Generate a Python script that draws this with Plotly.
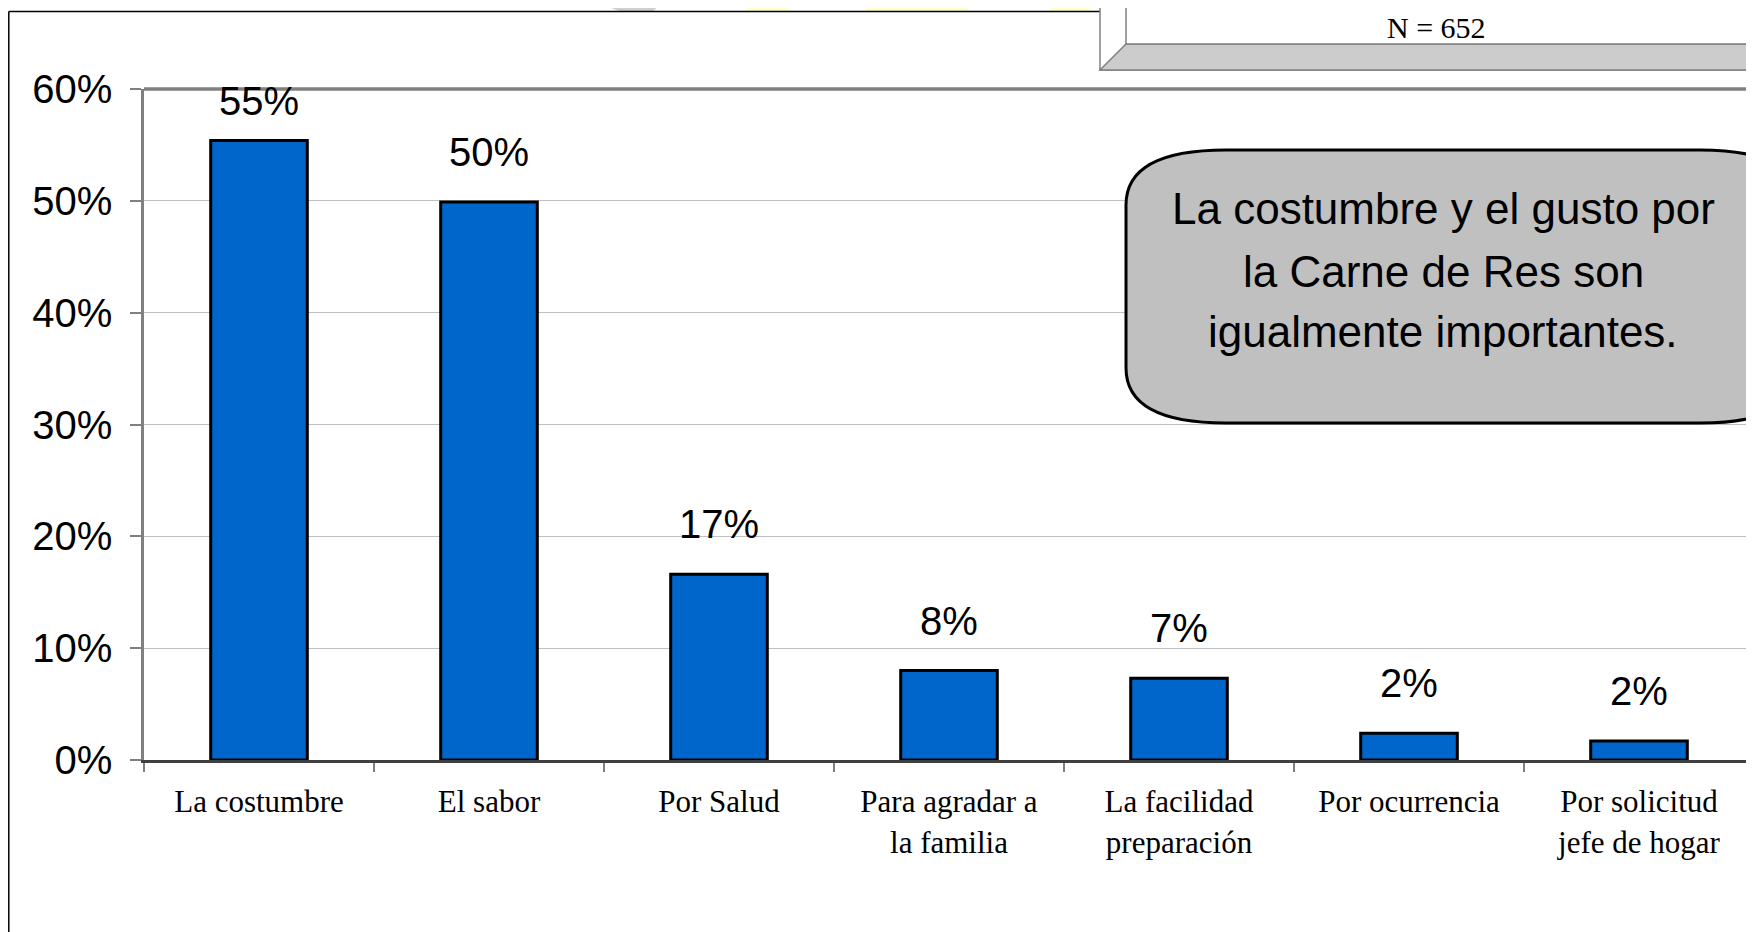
import plotly.graph_objects as go

# ---------------- data ----------------
categories = [
    "La costumbre",
    "El sabor",
    "Por Salud",
    "Para agradar a<br>la familia",
    "La facilidad<br>preparación",
    "Por ocurrencia",
    "Por solicitud<br>jefe de hogar",
]
values = [55.4, 49.9, 16.6, 8.0, 7.3, 2.4, 1.7]
y_ticks = [0, 10, 20, 30, 40, 50, 60]
callout_lines = [
    "La costumbre y el gusto por",
    "la Carne de Res son",
    "igualmente importantes.",
]
sample_text = "N = 652"

# ---------------- geometry helpers (page pixel coords) ----------------
OFF = 8  # default body margin of the html page
W, H = 1754 - OFF, 932 - OFF
PL, PR, PT, PB = 144, 1754, 89, 760  # plot area in page pixels


def px(x):
    return (x - PL) / (PR - PL)


def py(y):
    return (PB - y) / (PB - PT)


SANS = "Liberation Sans, Arial, sans-serif"
SERIF = "Liberation Serif, Times New Roman, serif"

fig = go.Figure()
fig.add_trace(
    go.Bar(
        x=categories,
        y=values,
        width=0.42,
        marker=dict(color="#0066CC", line=dict(color="#000000", width=3)),
        hoverinfo="skip",
    )
)

# data labels above bars
for i, (c, v) in enumerate(zip(categories, values)):
    fig.add_annotation(
        x=c, y=v, xref="x", yref="y",
        text=f"{round(v):d}%",
        showarrow=False,
        yanchor="middle",
        yshift=39 if i == 0 else 50,
        font=dict(family=SANS, size=40, color="#000000"),
    )

shapes = []
# faint background decorations at top edge
shapes.append(dict(type="path", xref="paper", yref="paper", layer="below",
                   path=f"M {px(583)},{py(0)} L {px(666)},{py(0)} L {px(652)},{py(12)} "
                        f"L {px(622)},{py(12)} L {px(600)},{py(4)} Z",
                   fillcolor="#cfcfcf", line=dict(width=0)))
shapes.append(dict(type="path", xref="paper", yref="paper", layer="below",
                   path=f"M {px(757)},{py(0)} L {px(779)},{py(0)} L {px(792)},{py(12)} L {px(743)},{py(12)} Z",
                   fillcolor="#ffffcc", line=dict(width=0)))
shapes.append(dict(type="rect", xref="paper", yref="paper", layer="below",
                   x0=px(866), x1=px(968), y0=py(12), y1=py(0),
                   fillcolor="#ffffcc", line=dict(width=0)))
shapes.append(dict(type="path", xref="paper", yref="paper", layer="below",
                   path=f"M {px(1060)},{py(0)} L {px(1080)},{py(0)} L {px(1093)},{py(12)} L {px(1047)},{py(12)} Z",
                   fillcolor="#ffffcc", line=dict(width=0)))

# outer frame (top and left)
shapes.append(dict(type="line", xref="paper", yref="paper",
                   x0=px(8.8), x1=px(1100), y0=py(11.5), y1=py(11.5),
                   line=dict(color="#000000", width=1.5)))
shapes.append(dict(type="line", xref="paper", yref="paper",
                   x0=px(8.8), x1=px(8.8), y0=py(11.5), y1=py(940),
                   line=dict(color="#000000", width=1.5)))

# plot area top border
shapes.append(dict(type="line", xref="paper", yref="paper",
                   x0=px(144), x1=px(1760), y0=py(89), y1=py(89),
                   line=dict(color="#808080", width=3.5)))

# N box (bevelled)
shapes.append(dict(type="rect", xref="paper", yref="paper",
                   x0=px(1100), x1=px(1775), y0=py(70), y1=py(-10),
                   fillcolor="#ffffff", line=dict(color="#808080", width=1.5)))
shapes.append(dict(type="path", xref="paper", yref="paper",
                   path=f"M {px(1126)},{py(44)} L {px(1747)},{py(44)} L {px(1775)},{py(70)} "
                        f"L {px(1100)},{py(70)} Z",
                   fillcolor="#cccccc", line=dict(color="#808080", width=1.5)))
shapes.append(dict(type="path", xref="paper", yref="paper",
                   path=f"M {px(1747)},{py(-10)} L {px(1775)},{py(-10)} L {px(1775)},{py(70)} "
                        f"L {px(1747)},{py(44)} Z",
                   fillcolor="#e6e6e6", line=dict(color="#808080", width=1.5)))
shapes.append(dict(type="rect", xref="paper", yref="paper",
                   x0=px(1126), x1=px(1747), y0=py(44), y1=py(-10),
                   fillcolor="#ffffff", line=dict(color="#808080", width=1.5)))

# callout rounded rectangle
L_, R_, T_, B_ = 1126, 1800, 150, 423
rx, ry = 100, 55
path = (
    f"M {px(L_ + rx)},{py(T_)} L {px(R_ - rx)},{py(T_)} "
    f"Q {px(R_)},{py(T_)} {px(R_)},{py(T_ + ry)} "
    f"L {px(R_)},{py(B_ - ry)} "
    f"Q {px(R_)},{py(B_)} {px(R_ - rx)},{py(B_)} "
    f"L {px(L_ + rx)},{py(B_)} "
    f"Q {px(L_)},{py(B_)} {px(L_)},{py(B_ - ry)} "
    f"L {px(L_)},{py(T_ + ry)} "
    f"Q {px(L_)},{py(T_)} {px(L_ + rx)},{py(T_)} Z"
)
shapes.append(dict(type="path", xref="paper", yref="paper", path=path,
                   fillcolor="#c0c0c0", line=dict(color="#000000", width=3)))

for s in shapes:
    fig.add_shape(**s)

# callout text
for line, ypx in zip(callout_lines, [208, 271, 331]):
    fig.add_annotation(
        x=px(1443), y=py(ypx), xref="paper", yref="paper",
        text=line, showarrow=False, xanchor="center", yanchor="middle",
        font=dict(family=SANS, size=44, color="#000000"),
    )

fig.add_annotation(
    x=px(1436), y=py(27), xref="paper", yref="paper",
    text=sample_text, showarrow=False, xanchor="center", yanchor="middle",
    font=dict(family=SERIF, size=30, color="#000000"),
)

fig.update_layout(
    width=W, height=H,
    margin=dict(l=PL - OFF, r=(1754 - OFF) - (PR - OFF), t=PT - OFF, b=H - (PB - OFF), pad=0),
    paper_bgcolor="#ffffff",
    plot_bgcolor="#ffffff",
    showlegend=False,
)
fig.update_xaxes(
    type="category",
    range=[-0.5, 6.5],
    showgrid=False,
    showline=True, linecolor="#404040", linewidth=3,
    ticks="outside", tickson="boundaries", ticklen=9, tickcolor="#808080", tickwidth=1.5,
    tickfont=dict(family=SERIF, size=31, color="#000000"),
    ticklabelstandoff=12,
    fixedrange=True,
)
fig.update_yaxes(
    range=[0, 60],
    tickvals=y_ticks,
    ticktext=[f"{t}%" for t in y_ticks],
    showgrid=True, gridcolor="#c0c0c0", gridwidth=1,
    showline=True, linecolor="#808080", linewidth=2.5,
    ticks="outside", ticklen=11, tickcolor="#808080", tickwidth=1.5,
    tickfont=dict(family=SANS, size=40, color="#000000"),
    ticklabelstandoff=10,
    zeroline=False,
    fixedrange=True,
)

fig.write_html("out.html", config={"displayModeBar": False})
